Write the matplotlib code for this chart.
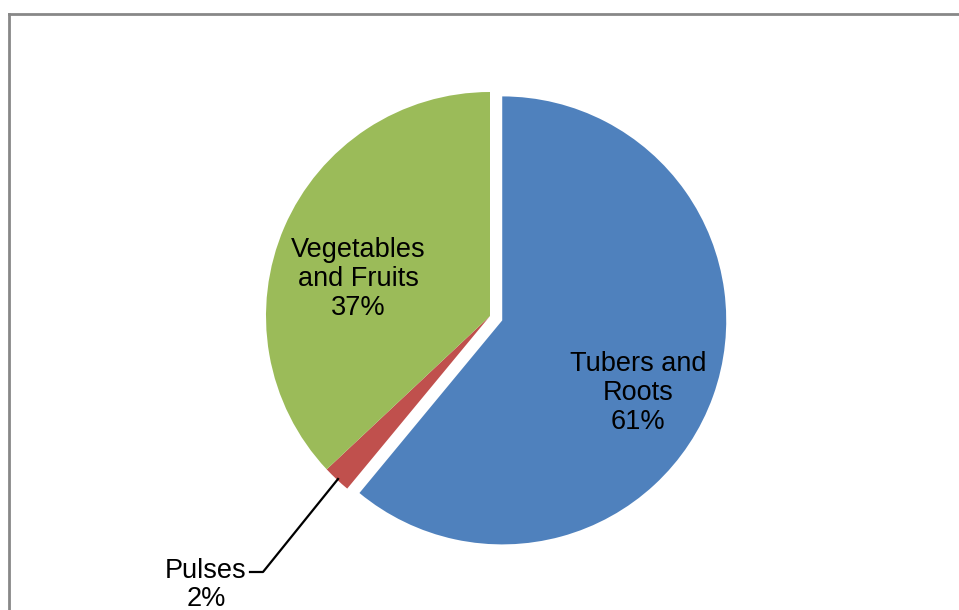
import matplotlib.pyplot as plt
from matplotlib.lines import Line2D

categorias = ["Tubers and\nRoots", "Pulses", "Vegetables\nand Fruits"]
porcentajes = [61, 2, 37]
colores = ["#4F81BD", "#C0504D", "#9BBB59"]
separacion = [13, 0, 0]

W, H = 959, 610

fig = plt.figure(figsize=(W / 100, H / 100), dpi=100)
ax = fig.add_axes([0, 0, 1, 1])

centro = (490, H - 316)
radio = 224

cunas, _ = ax.pie(porcentajes, colors=colores, explode=separacion,
                  startangle=90, counterclock=False,
                  center=centro, radius=radio, frame=True,
                  wedgeprops={"linewidth": 0})
ax.set_xlim(0, W)
ax.set_ylim(0, H)
ax.set_aspect("equal")
ax.axis("off")

fuente = {"family": "Liberation Sans", "size": 19.5, "color": "black"}

# etiquetas dentro de las porciones grandes
ax.text(638, H - 393, f"{categorias[0]}\n{porcentajes[0]}%", ha="center", va="center",
        linespacing=1.15, **fuente)
ax.text(358, H - 279, f"{categorias[2]}\n{porcentajes[2]}%", ha="center", va="center",
        linespacing=1.15, **fuente)

# etiqueta exterior con linea guia
ax.text(206, H - 585, f"{categorias[1]}\n{porcentajes[1]}%", ha="center", va="center",
        linespacing=1.15, **fuente)
ax.plot([250, 263, 338], [H - 572, H - 572, H - 479], color="black", linewidth=1.6)

# marco del grafico
fig.add_artist(Line2D([9 / W, 9 / W], [0, 1 - 14 / H], color="#888888", linewidth=2, transform=fig.transFigure))
fig.add_artist(Line2D([9 / W, 1], [1 - 14 / H, 1 - 14 / H], color="#888888", linewidth=2, transform=fig.transFigure))

fig.savefig("out.png", dpi=100)
